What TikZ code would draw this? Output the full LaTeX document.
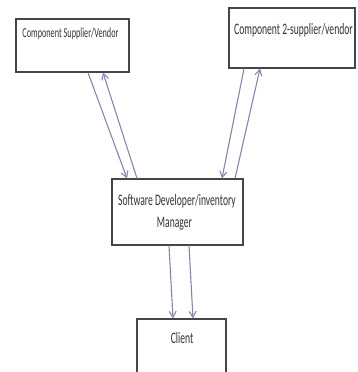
\documentclass[tikz,border=0pt]{standalone}
\usepackage{fontspec}
\newfontfamily\cf[FakeStretch=0.6]{Carlito}
\usetikzlibrary{arrows.meta}
\definecolor{boxline}{RGB}{70,70,70}
\definecolor{arrowcol}{RGB}{128,138,168}
\begin{document}
\begin{tikzpicture}[x=1pt,y=-1pt,
  box/.style={draw=boxline,line width=1.2pt,fill=white,inner sep=0pt},
  lbl/.style={anchor=base,inner sep=0pt,font=\cf\fontsize{16}{19}\selectfont,text=black!80},
  conn/.style={draw=arrowcol,line width=1.1pt,-{Straight Barb[length=6pt,width=7pt]}}]
\useasboundingbox (0,0) rectangle (357,372);
\node[box,minimum width=113pt,minimum height=53pt] (b1) at (72.5,45.5) {};
\node[box,minimum width=126pt,minimum height=60pt] (b2) at (292,38) {};
\node[box,minimum width=131pt,minimum height=66pt] (b3) at (177.5,212) {};
\node[box,minimum width=89pt,minimum height=57pt] (b4) at (181.5,347.5) {};
\node[lbl,font=\cf\fontsize{13.7}{16}\selectfont] (t1) at (70.5,37) {Component Supplier/Vendor};
\node[lbl] (t2) at (293.5,34.3) {Component 2-supplier/vendor};
\node[lbl] (t3a) at (177,205.5) {Software Developer/inventory};
\node[lbl] (t3b) at (174.5,227.7) {Manager};
\node[lbl] (t4) at (182,343.3) {Client};
\draw[conn] (88,0 |- b1.south) -- (127,0 |- b3.north);
\draw[conn] (137,0 |- b3.north) -- (103,0 |- b1.south);
\draw[conn] (244,0 |- b2.south) -- (222,0 |- b3.north);
\draw[conn] (235,0 |- b3.north) -- (260,0 |- b2.south);
\draw[conn] (169,0 |- b3.south) -- (173,0 |- b4.north);
\draw[conn] (189,0 |- b3.south) -- (193,0 |- b4.north);
\end{tikzpicture}
\end{document}
